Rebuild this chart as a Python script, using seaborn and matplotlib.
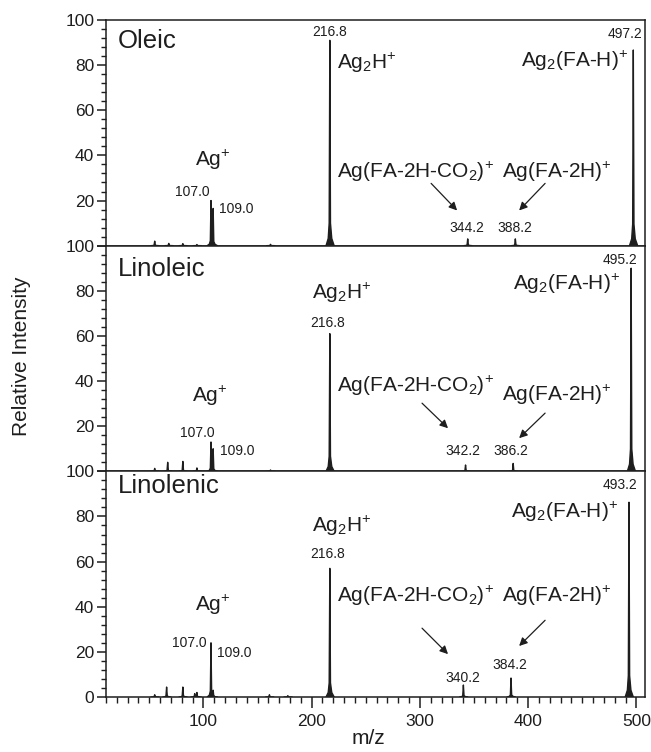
import numpy as np
import pandas as pd
import matplotlib
matplotlib.use("Agg")
import matplotlib.pyplot as plt
from matplotlib.ticker import MultipleLocator, FixedLocator, FuncFormatter
import seaborn as sns

# ---------------- data ----------------
panel_names = ["Oleic", "Linoleic", "Linolenic"]

oleic_mz = [55, 68, 81, 94, 107.0, 109.0, 162, 216.8, 344.2, 388.2, 497.2]
oleic_int = [2.0, 1.0, 0.9, 0.5, 20.0, 16.5, 0.6, 91.0, 3.0, 3.0, 86.7]

linoleic_mz = [55, 67, 81, 94, 107.0, 109.0, 162, 216.8, 342.2, 386.2, 495.2]
linoleic_int = [1.3, 4.0, 4.4, 1.5, 13.0, 10.0, 0.6, 61.0, 2.8, 3.5, 90.0]

linolenic_mz = [55, 66, 81, 92, 94, 107.0, 109.0, 161, 178, 216.8, 340.2, 384.2, 493.2]
linolenic_int = [1.0, 4.4, 4.4, 1.5, 2.0, 24.0, 3.0, 1.0, 0.6, 57.0, 5.3, 8.4, 86.3]

mz_lists = [oleic_mz, linoleic_mz, linolenic_mz]
int_lists = [oleic_int, linoleic_int, linolenic_int]

# peak labels (text, x, y) per panel
peak_labels = [
    [("107.0", 106, 24), ("109.0", 114, 16.4), ("216.8", 217, 94.7),
     ("344.2", 343.6, 8), ("388.2", 388, 8), ("497.2", 506, 94)],
    [("107.0", 110, 17), ("109.0", 115, 9), ("216.8", 215, 65.8),
     ("342.2", 340, 8.9), ("386.2", 384, 8.9), ("495.2", 501, 93.8)],
    [("107.0", 103, 24), ("109.0", 112.6, 19.5), ("216.8", 215, 63.3),
     ("340.2", 340, 8.4), ("384.2", 383.4, 14.2), ("493.2", 501, 93.8)],
]
# ion labels
ion_text = {
    "ag": r"Ag$^{+}$",
    "ag2h": r"Ag$_{2}$H$^{+}$",
    "ag2fa": r"Ag$_{2}$(FA-H)$^{+}$",
    "co2": r"Ag(FA-2H-CO$_{2}$)$^{+}$",
    "fa2h": r"Ag(FA-2H)$^{+}$",
}
ion_pos = [
    {"ag": (109, 37.8), "ag2h": (223.5, 81), "ag2fa": (492.5, 82),
     "co2": (223.5, 32.5), "fa2h": (376, 32.5)},
    {"ag": (106, 33.3), "ag2h": (200, 79), "ag2fa": (485, 83),
     "co2": (223.5, 37.8), "fa2h": (376, 34)},
    {"ag": (109, 40.7), "ag2h": (200, 76), "ag2fa": (483, 82),
     "co2": (223.5, 45), "fa2h": (376, 45)},
]
arrows = [
    [((310.4, 27.6), (334.4, 15.6)), ((415.7, 27.6), (391.7, 15.6))],
    [((302, 30.2), (326, 19.1)), ((415.7, 25.8), (391.7, 14.7))],
    [((302, 30.5), (326, 19.0)), ((415.7, 34.0), (391.7, 22.6))],
]
name_y = [90.7, 89.8, 93.3]

# ---------------- style ----------------
sns.set_theme(style="ticks")
plt.rcParams["font.family"] = ["Liberation Sans", "DejaVu Sans"]
plt.rcParams["mathtext.fontset"] = "custom"
plt.rcParams["mathtext.rm"] = "Liberation Sans"
plt.rcParams["mathtext.it"] = "Liberation Sans:italic"
plt.rcParams["mathtext.bf"] = "Liberation Sans:bold"
plt.rcParams["axes.linewidth"] = 1.1

INK = "#1e1e1e"

# peak shape template (style only)
shape_dx = np.array([-3.5, -1.5, -0.6, 0.0, 0.6, 1.8, 4.0])
shape_fy = np.array([0.0, 0.035, 0.11, 1.0, 0.11, 0.035, 0.0])

fig = plt.figure(figsize=(6.51, 7.52), dpi=100)
gs = fig.add_gridspec(3, 1, left=106/651, right=645/651,
                      bottom=1-697/752, top=1-20/752, hspace=0)
axes = [fig.add_subplot(gs[i]) for i in range(3)]

for i, ax in enumerate(axes):
    rows = []
    for k, (m, h) in enumerate(zip(mz_lists[i], int_lists[i])):
        for dx, fy in zip(shape_dx, shape_fy):
            rows.append({"mz": m + dx, "intensity": h * fy, "peak": k})
    df = pd.DataFrame(rows)
    sns.lineplot(data=df, x="mz", y="intensity", units="peak", estimator=None,
                 sort=False, color=INK, lw=1.0, ax=ax, legend=False)
    for k, g in df.groupby("peak"):
        ax.fill(g["mz"], g["intensity"], color=INK, lw=0)

    ax.set_xlim(10, 508)
    ax.set_ylim(0, 100)
    ax.set_xlabel("")
    ax.set_ylabel("")
    ax.yaxis.set_major_locator(MultipleLocator(20))
    ax.yaxis.set_minor_locator(MultipleLocator(4))
    if i < 2:
        ax.yaxis.set_major_formatter(FuncFormatter(lambda v, p: "" if v == 0 else f"{v:.0f}"))
        ax.tick_params(axis="x", which="both", bottom=False, labelbottom=False)
    else:
        ax.xaxis.set_major_locator(FixedLocator([100, 200, 300, 400, 500]))
        ax.xaxis.set_minor_locator(MultipleLocator(10))
        ax.tick_params(axis="x", which="major", length=8, width=1.1,
                       labelsize=12.5, colors=INK, pad=4)
        ax.tick_params(axis="x", which="minor", length=4, width=1.0, colors=INK)
    ax.tick_params(axis="y", which="major", length=6.5, width=1.1,
                   labelsize=12.5, colors=INK, pad=2)
    ax.tick_params(axis="y", which="minor", length=3.5, width=1.0, colors=INK)
    for s in ax.spines.values():
        s.set_visible(True)
        s.set_color(INK)

    ax.text(21, name_y[i], panel_names[i], fontsize=18.5, color=INK,
            ha="left", va="center")
    for t, x, y in peak_labels[i]:
        ha = "center"
        if t.startswith("107"):
            ha = "right"
        elif t.startswith("109"):
            ha = "left"
        elif t.startswith("49"):
            ha = "right"
        ax.text(x, y, t, fontsize=10, color=INK, ha=ha, va="center")
    for key, (x, y) in ion_pos[i].items():
        ha = "left"
        if key == "ag":
            ha = "center"
        elif key == "ag2fa":
            ha = "right"
        ax.text(x, y, ion_text[key], fontsize=15, color=INK, ha=ha, va="center")
    for (x0, y0), (x1, y1) in arrows[i]:
        ax.annotate("", xy=(x1, y1), xytext=(x0, y0),
                    arrowprops=dict(arrowstyle="-|>", color=INK, lw=0.9,
                                    mutation_scale=12, shrinkA=0, shrinkB=0))

fig.text(22/651, 1-356/752, "Relative Intensity", rotation=90, fontsize=15,
         color=INK, ha="center", va="center")
fig.text(368/651, 1-738/752, "m/z", fontsize=15, color=INK,
         ha="center", va="center")

fig.savefig("out.png", dpi=100)
